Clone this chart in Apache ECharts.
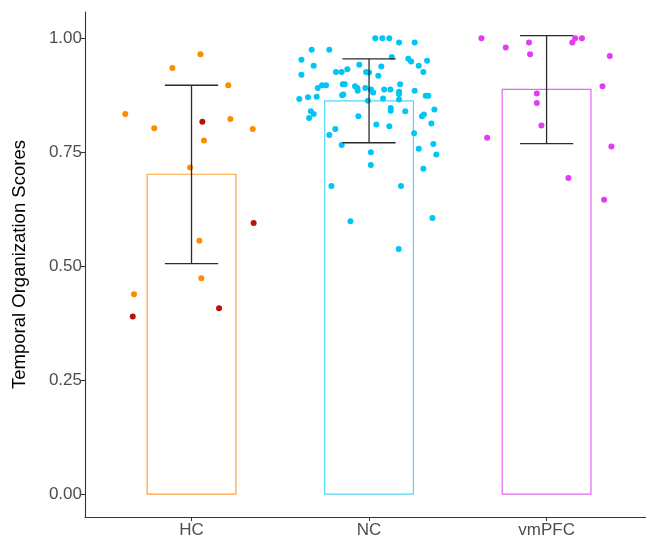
<!DOCTYPE html>
<html>
<head>
<meta charset="utf-8">
<script src="https://cdn.jsdelivr.net/npm/echarts@6/dist/echarts.min.js"></script>
<style>html,body{margin:0;padding:0;background:#fff}#c{width:646px;height:542px}</style>
</head>
<body>
<div id="c"></div>
<script>
// Categories and summary values
const categories = ['HC', 'NC', 'vmPFC'];
const barMeans = [0.701, 0.862, 0.887];
const errLow = [0.505, 0.770, 0.768];
const errHigh = [0.896, 0.954, 1.005];
const yTicks = [0, 0.25, 0.5, 0.75, 1.0];

// Jittered individual points: [x position (category units), score]
const hcPoints = [
  [1.050, 0.964], [0.892, 0.934], [1.207, 0.896], [0.627, 0.833], [1.219, 0.822],
  [0.790, 0.802], [1.345, 0.800], [1.070, 0.775], [0.992, 0.716], [1.044, 0.555],
  [1.055, 0.473], [0.676, 0.438]
];
const hcRedPoints = [
  [1.061, 0.816], [1.350, 0.594], [1.155, 0.407], [0.669, 0.389]
];
const ncPoints = [
  [2.035, 0.999], [2.075, 0.999], [2.114, 0.999], [2.169, 0.990], [2.257, 0.990],
  [1.677, 0.974], [1.776, 0.974], [2.128, 0.958], [1.619, 0.952], [2.221, 0.954],
  [2.237, 0.948], [2.327, 0.950], [1.688, 0.939], [1.945, 0.941], [2.069, 0.937],
  [2.280, 0.939], [1.878, 0.931], [1.814, 0.925], [1.846, 0.925], [1.983, 0.925],
  [2.000, 0.924], [2.306, 0.925], [1.619, 0.919], [2.052, 0.917], [1.735, 0.896],
  [1.758, 0.896], [1.852, 0.898], [1.863, 0.898], [2.175, 0.898], [1.711, 0.890],
  [1.921, 0.894], [1.934, 0.890], [1.936, 0.884], [1.979, 0.890], [2.011, 0.887],
  [2.023, 0.880], [2.085, 0.887], [2.120, 0.887], [2.169, 0.882], [2.169, 0.877],
  [2.257, 0.884], [1.848, 0.874], [1.855, 0.876], [2.319, 0.873], [2.334, 0.873],
  [1.607, 0.866], [1.656, 0.870], [1.705, 0.871], [2.079, 0.867], [2.169, 0.865],
  [1.994, 0.862], [2.122, 0.846], [2.122, 0.840], [1.672, 0.839], [1.688, 0.833],
  [2.204, 0.839], [2.368, 0.843], [1.662, 0.824], [1.940, 0.828], [2.298, 0.828],
  [2.309, 0.832], [2.351, 0.812], [2.041, 0.810], [2.114, 0.806], [1.810, 0.800],
  [1.776, 0.787], [2.254, 0.791], [1.846, 0.765], [2.362, 0.767], [2.280, 0.757],
  [2.010, 0.749], [2.379, 0.744], [2.010, 0.721], [2.306, 0.713], [1.788, 0.675],
  [2.180, 0.675], [1.895, 0.598], [2.357, 0.605], [2.167, 0.537]
];
const vmpfcPoints = [
  [2.633, 0.999], [2.770, 0.979], [2.901, 0.990], [2.907, 0.964], [3.145, 0.990],
  [3.161, 0.999], [3.199, 0.999], [3.356, 0.960], [3.315, 0.894], [2.945, 0.878],
  [2.945, 0.857], [2.971, 0.808], [2.665, 0.781], [3.365, 0.762], [3.123, 0.693],
  [3.324, 0.645]
];

const barColors = ['#FFA233', '#52D6F6', '#E466F2'];
const font = 'Liberation Sans, Arial, sans-serif';

const barData = barMeans.map((m, i) => [i + 1, m, i]);
const errData = barMeans.map((m, i) => [i + 1, errLow[i], errHigh[i]]);

const chart = echarts.init(document.getElementById('c'), null, {renderer: 'canvas'});
chart.setOption({
  animation: false,
  backgroundColor: '#ffffff',
  grid: {left: 85, top: 12, right: 0, bottom: 25, containLabel: false},
  xAxis: {
    type: 'value', min: 0.4, max: 3.56,
    splitLine: {show: false},
    axisLine: {show: true, onZero: false, lineStyle: {color: '#333333', width: 1.1}},
    axisTick: {show: true, length: 4, lineStyle: {color: '#333333'}, customValues: [1, 2, 3]},
    axisLabel: {
      show: true, customValues: [1, 2, 3], color: '#4D4D4D', fontSize: 17,
      fontFamily: font, margin: 5,
      formatter: v => categories[Math.round(v) - 1] || ''
    }
  },
  yAxis: {
    type: 'value', min: -0.0503, max: 1.0566,
    name: 'Temporal Organization Scores', nameLocation: 'middle', nameGap: 56,
    nameTextStyle: {color: '#000000', fontSize: 18.5, fontFamily: font},
    splitLine: {show: false},
    axisLine: {show: true, onZero: false, lineStyle: {color: '#333333', width: 1.1}},
    axisTick: {show: true, length: 4, lineStyle: {color: '#333333'}, customValues: yTicks},
    axisLabel: {
      show: true, customValues: yTicks, color: '#4D4D4D', fontSize: 17,
      fontFamily: font, margin: 3,
      formatter: v => v.toFixed(2)
    }
  },
  series: [
    {
      type: 'custom', z: 1,
      data: barData,
      renderItem: (params, api) => {
        const x = api.value(0), y = api.value(1), idx = api.value(2);
        const p1 = api.coord([x - 0.25, y]);
        const p2 = api.coord([x + 0.25, 0]);
        return {
          type: 'rect',
          shape: {x: p1[0], y: p1[1], width: p2[0] - p1[0], height: p2[1] - p1[1]},
          style: {fill: 'none', stroke: barColors[idx], lineWidth: 1.2}
        };
      }
    },
    {type: 'scatter', z: 2, data: hcPoints, symbolSize: 6, itemStyle: {color: '#FF8C00', opacity: 1}},
    {type: 'scatter', z: 2, data: hcRedPoints, symbolSize: 6, itemStyle: {color: '#B8130B', opacity: 1}},
    {type: 'scatter', z: 2, data: ncPoints, symbolSize: 6, itemStyle: {color: '#00C6F5', opacity: 1}},
    {type: 'scatter', z: 2, data: vmpfcPoints, symbolSize: 6, itemStyle: {color: '#E23CF2', opacity: 1}},
    {
      type: 'custom', z: 3,
      data: errData,
      renderItem: (params, api) => {
        const x = api.value(0), lo = api.value(1), hi = api.value(2);
        const top = api.coord([x, hi]);
        const bot = api.coord([x, lo]);
        const tl = api.coord([x - 0.15, hi]);
        const tr = api.coord([x + 0.15, hi]);
        const bl = api.coord([x - 0.15, lo]);
        const br = api.coord([x + 0.15, lo]);
        const st = {stroke: '#2b2b2b', lineWidth: 1.3};
        return {
          type: 'group',
          children: [
            {type: 'line', shape: {x1: top[0], y1: top[1], x2: bot[0], y2: bot[1]}, style: st},
            {type: 'line', shape: {x1: tl[0], y1: tl[1], x2: tr[0], y2: tr[1]}, style: st},
            {type: 'line', shape: {x1: bl[0], y1: bl[1], x2: br[0], y2: br[1]}, style: st}
          ]
        };
      }
    }
  ]
});
</script>
</body>
</html>
